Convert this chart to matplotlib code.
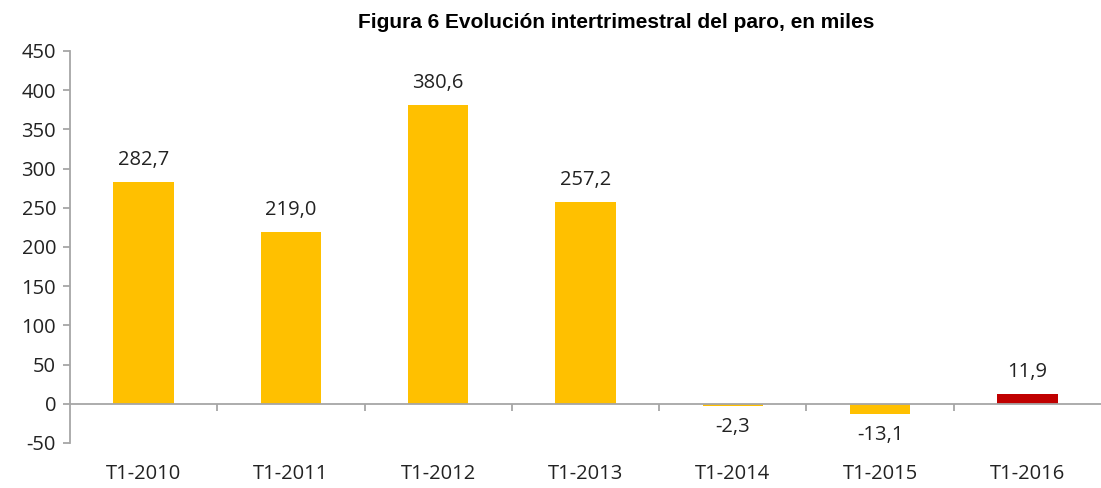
import matplotlib.pyplot as plt

categories = ['T1-2010', 'T1-2011', 'T1-2012', 'T1-2013', 'T1-2014', 'T1-2015', 'T1-2016']
values = [282.7, 219.0, 380.6, 257.2, -2.3, -13.1, 11.9]
labels = ['282,7', '219,0', '380,6', '257,2', '-2,3', '-13,1', '11,9']
colors = ['#FFC000'] * 6 + ['#C00000']

plt.rcParams['font.family'] = ['Open Sans', 'DejaVu Sans']
plt.rcParams['axes.unicode_minus'] = False
fs = 14.5

fig = plt.figure(figsize=(11.01, 4.88), dpi=100)
ax = fig.add_axes([70 / 1101, 1 - 443 / 488, 1 - 70 / 1101, (443 - 51) / 488])

x = range(len(categories))
ax.bar(x, values, width=0.41, color=colors, zorder=2)

for i, (v, lab) in enumerate(zip(values, labels)):
    if v >= 0:
        ax.annotate(lab, (i, v), xytext=(0, 9), textcoords='offset points',
                    ha='center', va='bottom', fontsize=fs, color='#222222')
    else:
        ax.annotate(lab, (i, v), xytext=(0, -8), textcoords='offset points',
                    ha='center', va='top', fontsize=fs, color='#222222')

ax.set_xlim(-0.5, len(categories) - 0.5)
ax.set_ylim(-50, 450)
ax.set_yticks(range(-50, 451, 50))
ax.tick_params(axis='y', labelsize=fs, color='#a6a6a6', length=5, width=1.3,
               labelcolor='#222222', pad=5)

ax.spines['top'].set_visible(False)
ax.spines['right'].set_visible(False)
ax.spines['left'].set_color('#a6a6a6')
ax.spines['left'].set_linewidth(1.3)
ax.spines['bottom'].set_position(('data', 0))
ax.spines['bottom'].set_color('#a6a6a6')
ax.spines['bottom'].set_linewidth(1.3)
ax.spines['bottom'].set_zorder(3)

ax.set_xticks([i + 0.5 for i in range(len(categories) - 1)])
ax.set_xticklabels([])
ax.set_xticks(list(x), minor=True)
ax.set_xticklabels(categories, minor=True)
ax.tick_params(axis='x', which='major', color='#a6a6a6', length=5, width=1.3)
ax.tick_params(axis='x', which='minor', length=0, pad=43, labelsize=fs,
               labelcolor='#222222')

fig.text(616 / 1101, 1 - 23 / 488, 'Figura 6 Evolución intertrimestral del paro, en miles',
         ha='center', va='center', fontsize=15, fontweight='bold',
         family=['Liberation Sans', 'DejaVu Sans'])

fig.savefig('out.png', dpi=100)
